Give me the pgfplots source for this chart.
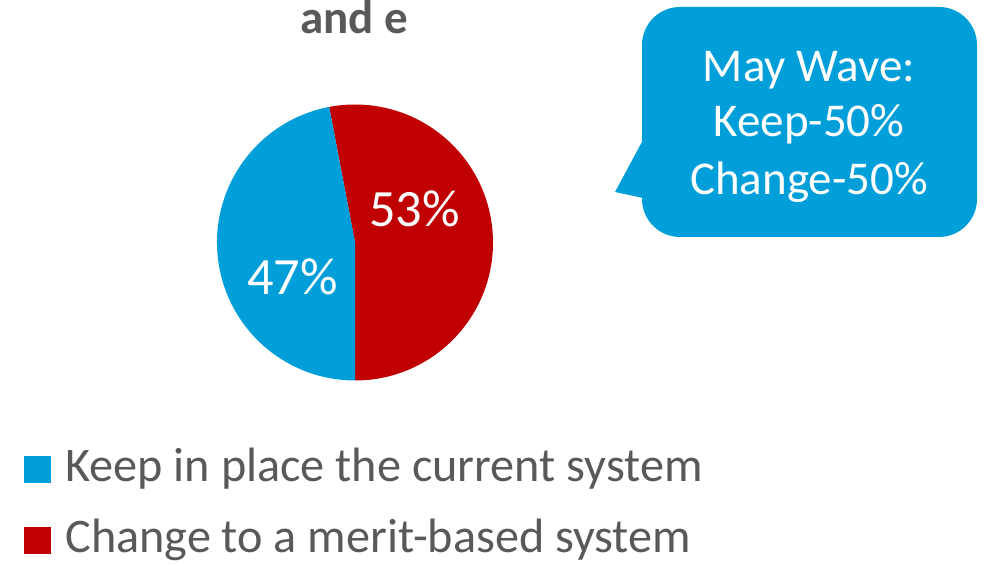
\documentclass[border=0pt]{standalone}
\usepackage{pgfplots}
\pgfplotsset{compat=1.18}
\usepackage{pgfplotstable}
\usepackage{fontspec}
\setmainfont{Carlito}
\definecolor{pieblue}{HTML}{009FDA}
\definecolor{piered}{HTML}{C00000}
\definecolor{txtgray}{HTML}{595959}
\pgfplotstableread{
label value
Keep 47
Change 53
}\piedata
\pgfplotstablegetelem{0}{value}\of\piedata \let\vkeep\pgfplotsretval
\pgfplotstablegetelem{1}{value}\of\piedata \let\vchange\pgfplotsretval
\pgfmathsetmacro\pieSplit{-90+3.6*\vchange}
\pgfmathsetmacro\pieEnd{\pieSplit+3.6*\vkeep}
\begin{document}
\begin{tikzpicture}
\begin{axis}[hide axis, scale only axis, width=493pt, height=283pt,
  xmin=0, xmax=986, ymin=0, ymax=566, clip=false]
% pie slices
\fill[piered] (axis cs:355,323.5) -- ++(-90:69pt) arc[start angle=-90, end angle=\pieSplit, radius=69pt] -- cycle;
\fill[pieblue] (axis cs:355,323.5) -- ++(\pieSplit:69pt) arc[start angle=\pieSplit, end angle=\pieEnd, radius=69pt] -- cycle;
% data labels
\node[anchor=base, inner sep=0, text=white, font=\fontsize{26.2}{30}\selectfont] at (axis cs:414.5,339) {53\%};
\node[anchor=base, inner sep=0, text=white, font=\fontsize{26.2}{30}\selectfont] at (axis cs:292.5,271) {47\%};
% title
\node[anchor=base, inner sep=0, text=txtgray, font=\fontsize{23.5}{28}\selectfont\bfseries] at (axis cs:354,532) {and e};
% callout
\fill[pieblue, rounded corners=19pt] (axis cs:642,329) rectangle (axis cs:977,559);
\fill[pieblue] (axis cs:643,426) -- (axis cs:615,374) -- (axis cs:643,368) -- cycle;
\node[anchor=base, inner sep=0, text=white, font=\fontsize{23.5}{28}\selectfont] at (axis cs:809,484) {May Wave:};
\node[anchor=base, inner sep=0, text=white, font=\fontsize{23.5}{28}\selectfont] at (axis cs:809,429) {Keep-50\%};
\node[anchor=base, inner sep=0, text=white, font=\fontsize{23.5}{28}\selectfont] at (axis cs:809,371) {Change-50\%};
% legend
\fill[pieblue] (axis cs:24,83) rectangle (axis cs:51,110);
\node[anchor=base west, inner sep=0, text=txtgray, font=\fontsize{24.1}{28}\selectfont] at (axis cs:65,84) {Keep in place the current system};
\fill[piered] (axis cs:24,12) rectangle (axis cs:51,39);
\node[anchor=base west, inner sep=0, text=txtgray, font=\fontsize{24.1}{28}\selectfont] at (axis cs:65,13) {Change to a merit-based system};
\end{axis}
\pgfresetboundingbox
\useasboundingbox (current axis.south west) rectangle (current axis.north east);
\end{tikzpicture}
\end{document}
